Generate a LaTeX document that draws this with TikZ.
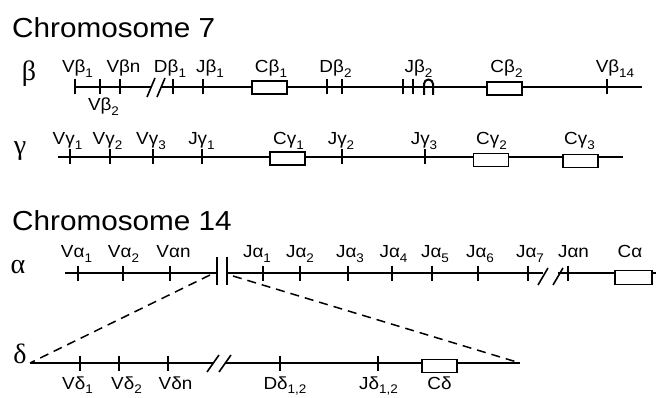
\documentclass[tikz,border=0pt]{standalone}
\usepackage{fontspec}
\setmainfont{Liberation Sans}[FakeStretch=1.08]
\newfontfamily\grk{Liberation Serif}
\newcommand\sbs[1]{\raisebox{-0.27em}{\fontsize{12.5pt}{12.5pt}\selectfont #1}}
\begin{document}
\begin{tikzpicture}[x=1pt,y=-1pt,
  chrom/.style={line width=1.5pt},
  gtick/.style={line width=2.6pt},
  brk/.style={line width=1.6pt},
  exon/.style={draw, line width=1.6pt, fill=white, minimum width=35pt, minimum height=13pt, inner sep=0pt},
  lab/.style={anchor=base, inner sep=0pt, font=\fontsize{17.5pt}{17.5pt}\selectfont},
  ttl/.style={anchor=base west, inner sep=0pt, font=\fontsize{27.5pt}{27.5pt}\selectfont},
  rowlab/.style={anchor=base, inner sep=0pt, font=\grk\fontsize{28pt}{28pt}\selectfont},
  dsh/.style={line width=1.5pt, dash pattern=on 9pt off 6pt}]
\useasboundingbox (0,0) rectangle (656,398);

% titles
\node[ttl] (t7) at (12,38) {Chromosome 7};
\node[ttl] (t14) at (12,231) {Chromosome 14};

% row labels
\node[rowlab] (rb) at (29,81) {β};
\node[rowlab] (rg) at (20,155) {γ};
\node[rowlab] (ra) at (18,273) {α};
\node[rowlab] (rd) at (20,363) {δ};

% ---------------- beta ----------------
\coordinate (bS) at (75,87);
\coordinate (bB1) at (151,87);
\coordinate (bB2) at (161,87);
\coordinate (bE) at (642,87);
\draw[chrom] (bS) -- (bB1);
\draw[chrom] (bB2) -- (bE);
\draw[brk] ([xshift=-4pt,yshift=-10pt]bB1) -- ([xshift=4pt,yshift=9pt]bB1);
\draw[brk] ([xshift=-4pt,yshift=-10pt]bB2) -- ([xshift=4pt,yshift=9pt]bB2);
\foreach \n/\x in {b1/75,b2/100,bn/120,bd1/173,bj1/203,bd2a/327,bd2b/342,bj2a/403,bj2b/413,b14/607}{
  \coordinate (\n) at (\x,87);
  \draw[gtick] ([yshift=7.5pt]\n) -- ([yshift=-7.5pt]\n);
}
\draw[line width=2pt] (424,95) -- (424,84) arc[start angle=180,end angle=0,radius=4.5pt] -- (433,95);
\node[exon] (cb1) at (269.5,87.5) {};
\node[exon] (cb2) at (504.5,88.5) {};
\node[lab] (lVb1) at (77.5,73) {Vβ\sbs{1}};
\node[lab] (lVbn) at (123.5,73) {Vβn};
\node[lab] (lDb1) at (170,73) {Dβ\sbs{1}};
\node[lab] (lJb1) at (210,73) {Jβ\sbs{1}};
\node[lab] (lCb1) at (271,73) {Cβ\sbs{1}};
\node[lab] (lDb2) at (335.5,73) {Dβ\sbs{2}};
\node[lab] (lJb2) at (418.5,73) {Jβ\sbs{2}};
\node[lab] (lCb2) at (506.5,73) {Cβ\sbs{2}};
\node[lab] (lVb14) at (615,73) {Vβ\sbs{14}};
\node[lab] (lVb2) at (103.5,111) {Vβ\sbs{2}};

% ---------------- gamma ----------------
\coordinate (gS) at (58,157);
\coordinate (gE) at (623,157);
\draw[chrom] (gS) -- (gE);
\foreach \n/\x in {g1/70,g2/110,g3/153,gj1/202,gj2/342,gj3/425}{
  \coordinate (\n) at (\x,157);
  \draw[gtick] ([yshift=7.5pt]\n) -- ([yshift=-7.5pt]\n);
}
\node[exon] (cg1) at (287.5,158.5) {};
\node[exon] (cg2) at (491,160) {};
\node[exon] (cg3) at (580.5,161) {};
\node[lab] (lVg1) at (67.5,145) {Vγ\sbs{1}};
\node[lab] (lVg2) at (107.5,145) {Vγ\sbs{2}};
\node[lab] (lVg3) at (151,145) {Vγ\sbs{3}};
\node[lab] (lJg1) at (201.5,145) {Jγ\sbs{1}};
\node[lab] (lCg1) at (288.5,145) {Cγ\sbs{1}};
\node[lab] (lJg2) at (341,145) {Jγ\sbs{2}};
\node[lab] (lJg3) at (424,145) {Jγ\sbs{3}};
\node[lab] (lCg2) at (491.5,145) {Cγ\sbs{2}};
\node[lab] (lCg3) at (579.5,145) {Cγ\sbs{3}};

% ---------------- alpha ----------------
\coordinate (aS) at (65,273);
\coordinate (aL) at (217,273);
\coordinate (aR) at (227,273);
\coordinate (aB1) at (543,273);
\coordinate (aB2) at (558,273);
\coordinate (aE) at (656,273);
\draw[chrom] (aS) -- ([xshift=-1pt]aL);
\draw[chrom] ([xshift=1pt]aR) -- (aB1);
\draw[chrom] (aB2) -- (aE);
\draw[brk] ([yshift=16pt]aL) -- ([yshift=-12pt]aL);
\draw[brk] ([yshift=16pt]aR) -- ([yshift=-12pt]aR);
\draw[brk] ([xshift=-5pt,yshift=-12pt]aB1) -- ([xshift=5pt,yshift=5pt]aB1);
\draw[brk] ([xshift=-5pt,yshift=-12pt]aB2) -- ([xshift=5pt,yshift=5pt]aB2);
\foreach \n/\x in {a1/78,a2/123,an/170,ja1/263,ja2/300,ja3/348,ja4/392,ja5/432,ja6/478,ja7/528,jan/568}{
  \coordinate (\n) at (\x,273);
  \draw[gtick] ([yshift=7.5pt]\n) -- ([yshift=-7.5pt]\n);
}
\node[exon, minimum width=37pt, minimum height=14pt] (ca) at (633.5,277.5) {};
\node[lab] (lVa1) at (76.5,258) {Vα\sbs{1}};
\node[lab] (lVa2) at (123.5,258) {Vα\sbs{2}};
\node[lab] (lVan) at (173.5,258) {Vαn};
\node[lab] (lJa1) at (257,258) {Jα\sbs{1}};
\node[lab] (lJa2) at (300,258) {Jα\sbs{2}};
\node[lab] (lJa3) at (350,258) {Jα\sbs{3}};
\node[lab] (lJa4) at (393.5,258) {Jα\sbs{4}};
\node[lab] (lJa5) at (435,258) {Jα\sbs{5}};
\node[lab] (lJa6) at (480,258) {Jα\sbs{6}};
\node[lab] (lJa7) at (530,258) {Jα\sbs{7}};
\node[lab] (lJan) at (573.5,258) {Jαn};
\node[lab] (lCa) at (630,258) {Cα};

% ---------------- delta ----------------
\coordinate (dS) at (30,363);
\coordinate (dB1) at (213,363);
\coordinate (dB2) at (225,363);
\coordinate (dE) at (520,363);
\draw[chrom] (dS) -- (dB1);
\draw[chrom] (dB2) -- (dE);
\draw[brk] ([xshift=-6pt,yshift=-9pt]dB1) -- ([xshift=6pt,yshift=8pt]dB1);
\draw[brk] ([xshift=-6pt,yshift=-9pt]dB2) -- ([xshift=6pt,yshift=8pt]dB2);
\foreach \n/\x in {d1/80,d2/119,dn/168,dd/280,dj/378}{
  \coordinate (\n) at (\x,363);
  \draw[gtick] ([yshift=7.5pt]\n) -- ([yshift=-7.5pt]\n);
}
\node[exon] (cd) at (439.5,366) {};
\node[lab] (lVd1) at (77.5,389) {Vδ\sbs{1}};
\node[lab] (lVd2) at (126.5,389) {Vδ\sbs{2}};
\node[lab] (lVdn) at (175.5,389) {Vδn};
\node[lab] (lDd) at (285,389) {Dδ\sbs{1,2}};
\node[lab] (lJd) at (378.5,389) {Jδ\sbs{1,2}};
\node[lab] (lCd) at (439.5,389) {Cδ};

% dashed expansion
\coordinate (aDL) at (210,275);
\coordinate (aDR) at (233,276);
\draw[dsh] (aDL) -- (dS);
\draw[dsh] (aDR) -- (dE);
\end{tikzpicture}
\end{document}
